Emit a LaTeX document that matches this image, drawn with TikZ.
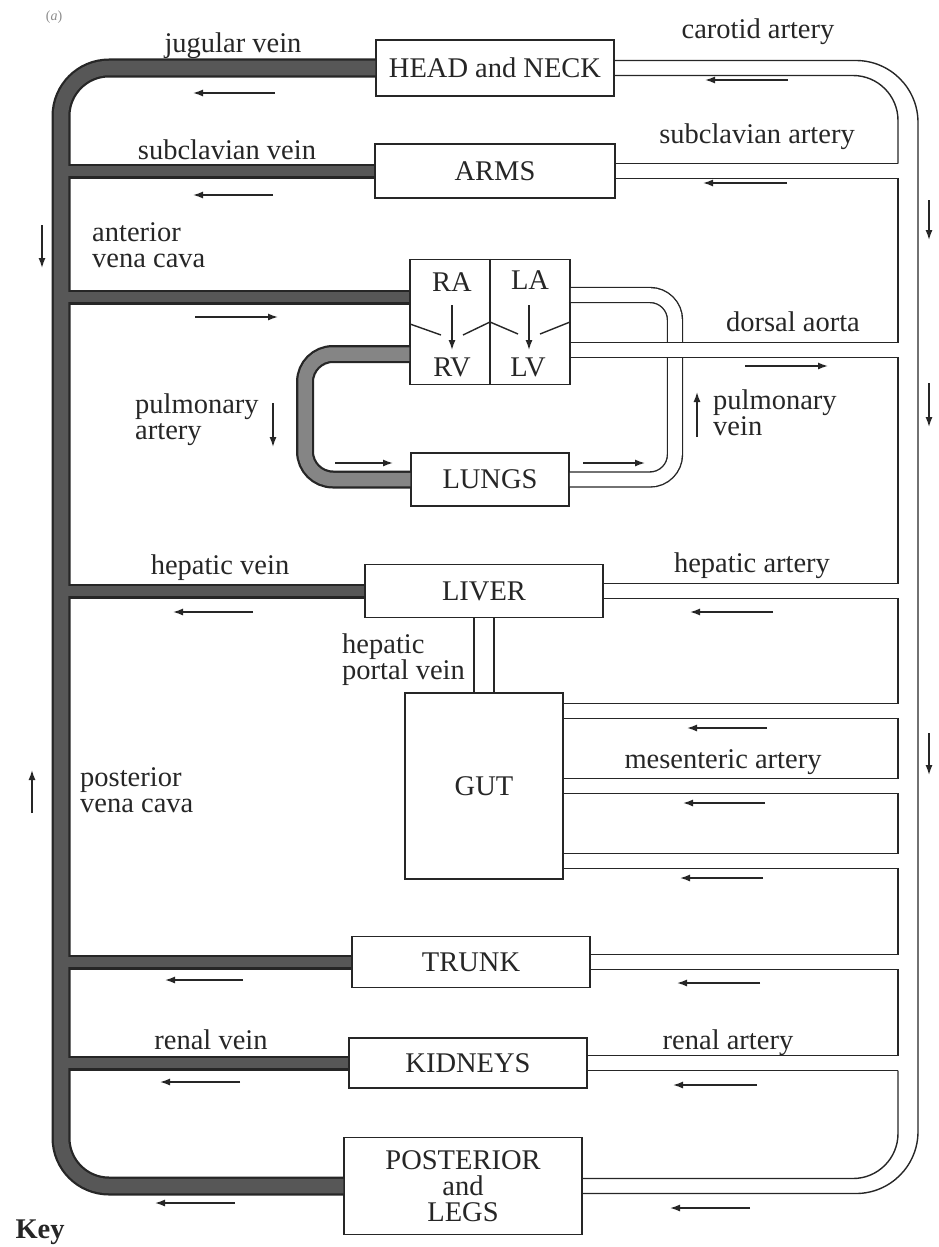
\documentclass[tikz,border=0pt]{standalone}
\usepackage{fontspec}
\setmainfont{Liberation Serif}
\usetikzlibrary{positioning,calc,arrows.meta}
\tikzset{
	organ/.style = {draw, line width=1.5pt, fill=white, inner sep=0pt, minimum width=238pt, minimum height=54pt}, % the boxes of the parts of the body
	wall/.style = {line width=1.4pt}, % one wall of an artery
	tube/.style = {line width=1.4pt, double=white, double distance=13.6pt}, % a vessel drawn as two walls
	flow/.style = {-{Latex[length=10pt,width=7pt]}, line width=1.4pt}, % the way the blood goes
	lbl/.style = {inner sep=0pt, align=left}
}

\begin{document}
\begin{tikzpicture}[x=1pt, y=-1pt, color=black!85, font=\fontsize{28.5}{26}\selectfont]
\useasboundingbox (0,0) rectangle (938,1247);
\node[organ, minimum height=56pt] (head) at (495,68) {HEAD and NECK};
\node[organ, minimum width=240pt] (arms) at (495,171) {ARMS};
\node[organ, minimum width=160pt, minimum height=125pt] (heart) at (490,322) {};
\node[organ, minimum width=158pt, minimum height=53pt] (lungs) [below=67pt of heart] {LUNGS};
\node[organ, minimum height=53pt] (liver) at (484,591) {LIVER};
\node[organ, minimum width=158pt, minimum height=186pt] (gut) [below=74pt of liver] {GUT};
\node[organ, minimum height=51pt] (trunk) at (471,962) {TRUNK};
\node[organ, minimum height=50pt] (kidneys) at (468,1063) {KIDNEYS};
\node[organ, minimum height=97pt, align=center] (post) at (463,1186) {POSTERIOR\\and\\LEGS};

% veins
\coordinate (vc) at (61,0);
\path (heart.west) ++(0,-25) coordinate (ra-in) ++(0,57) coordinate (rv-out);
\foreach \c/\tw/\bw in {black!85/19pt/15pt, black!66/14.5pt/10.5pt}{
	\draw[draw=\c, line width=\tw, rounded corners=48pt] (head.west) -- (head.west -| vc) -- (post.west -| vc) -- (post.west);
	\foreach \n in {arms.west, ra-in, liver.west, trunk.west, kidneys.west}
		\draw[draw=\c, line width=\bw] (\n) -- (\n -| vc);
}

% lungs
\coordinate (pa) at (305,0);
\coordinate (pv) at (675,0);
\foreach \c/\w in {black!85/18pt, black!48/13.5pt}
	\draw[draw=\c, line width=\w, rounded corners=28pt] (rv-out) -- (rv-out -| pa) -- (lungs.west -| pa) -- (lungs.west);
\path (heart.east) ++(0,-27) coordinate (la-in) ++(0,55) coordinate (lv-out);
\draw[tube, rounded corners=25pt] (la-in) -- (la-in -| pv) -- (lungs.east -| pv) -- (lungs.east);

% arteries
\coordinate (xi) at (898,0);
\coordinate (xo) at (918,0);
\draw[tube] (lv-out) -- (lv-out -| xi);
\foreach \n in {head, arms, liver, trunk, kidneys, post}
	\path (\n.east) ++(0,-7.5) coordinate (\n-u) ++(0,15) coordinate (\n-l);
\path (lv-out) ++(0,-7.5) coordinate (heart-u) ++(0,15) coordinate (heart-l);
\foreach \i/\dy in {1/-75, 2/0, 3/75}
	\path (gut.east) ++(0,\dy-7.5) coordinate (gut\i-u) ++(0,15) coordinate (gut\i-l);
\draw[wall, rounded corners=45pt] (head-l) -- (head-l -| xi) -- (arms-u -| xi);
\draw[wall] (arms-u -| xi) -- (arms-u);
\foreach \a/\b in {arms-l/heart-u, heart-l/liver-u, liver-l/gut1-u, gut1-l/gut2-u, gut2-l/gut3-u, gut3-l/trunk-u, trunk-l/kidneys-u}
	\draw[wall] (\a) -- (\a -| xi) -- (\b -| xi) -- (\b);
\draw[wall, rounded corners=45pt] (post-u) -- (post-u -| xi) -- (kidneys-l -| xi);
\draw[wall] (kidneys-l -| xi) -- (kidneys-l);
\draw[wall, rounded corners=62pt] (head-u) -- (head-u -| xo) -- (post-l -| xo) -- (post-l);
\draw[tube, double distance=18.6pt] (liver.south) -- (gut.north);

% heart
\draw[line width=1.5pt] (heart.north) -- (heart.south);
\begin{scope}[shift={(heart.center)}]
	\draw[wall] (-80,2) -- (-49,13) (-27,13) -- (0,0) -- (28,12) (50,12) -- (80,0);
	\node (ra) at (-38,-40) {RA};
	\node (la) at (40,-42) {LA};
	\node (rv) at (-38,45) {RV};
	\node (lv) at (38,45) {LV};
	\draw[flow] (-38,-17) -- (-38,28);
	\draw[flow] (39,-17) -- (39,28);
\end{scope}

\node[lbl] (jugular) at (233,46) {jugular vein};
\node[lbl] (subcl-v) at (227,150) {subclavian vein};
\node[lbl, anchor=west] (ant-vc) at (92,245) {anterior\\vena cava};
\node[lbl] (carotid) at (758,32) {carotid artery};
\node[lbl] (subcl-a) at (757,137) {subclavian artery};
\node[lbl] (dorsal) at (793,322) {dorsal aorta};
\node[lbl, anchor=west] (pulm-v) at (713,413) {pulmonary\\vein};
\node[lbl, anchor=west] (pulm-a) at (135,420) {pulmonary\\artery};
\node[lbl] (hep-v) at (220,568) {hepatic vein};
\node[lbl] (hep-a) at (752,566) {hepatic artery};
\node[lbl, anchor=west] (portal) at (342,660) {hepatic\\portal vein};
\node[lbl, anchor=west] (post-vc) at (80,790) {posterior\\vena cava};
\node[lbl] (mesent) at (723,762) {mesenteric artery};
\node[lbl] (renal-v) at (211,1040) {renal vein};
\node[lbl] (renal-a) at (728,1043) {renal artery};
\node[text=black!45, font=\fontsize{14}{16}\selectfont] (part) at (54,17) {(\textit{a})};
\node[anchor=base west, font=\bfseries\fontsize{28.5}{26}\selectfont] (key) at (12,1238) {Key};

\foreach \xa/\ya/\xb/\yb in {275/93/193/93, 273/195/193/195, 253/612/173/612, 243/980/165/980, 240/1082/160/1082, 235/1203/155/1203, 195/317/278/317, 42/225/42/268, 32/813/32/770, 273/403/273/447, 335/463/393/463, 583/463/645/463, 697/437/697/392, 788/80/705/80, 787/183/703/183, 745/366/828/366, 773/612/690/612, 767/728/687/728, 765/803/683/803, 763/878/680/878, 760/983/677/983, 757/1085/673/1085, 750/1208/670/1208, 929/200/929/240, 929/383/929/427, 929/733/929/775}
	\draw[flow] (\xa,\ya) -- (\xb,\yb);
\end{tikzpicture}
\end{document}
